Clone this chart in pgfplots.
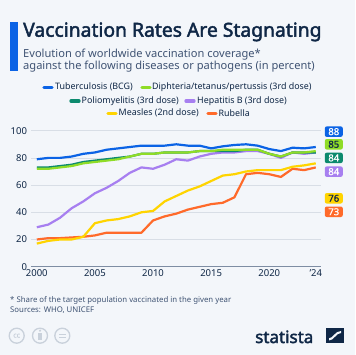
\documentclass[border=0pt]{standalone}
\usepackage{pgfplots}
\pgfplotsset{compat=1.18}
\usepackage{fontspec}
\setmainfont{Noto Sans}
\newfontfamily\heavyfont{Noto Sans}[FakeBold=2.2]
\newfontfamily\semifont{Noto Sans}[FakeBold=1.0]
\definecolor{bg}{HTML}{F3F6FA}
\definecolor{navy}{HTML}{0F2746}
\definecolor{subt}{HTML}{3F5373}
\definecolor{cBCG}{HTML}{0B63E5}
\definecolor{cDTP}{HTML}{8FDC27}
\definecolor{cPol}{HTML}{0C8A6E}
\definecolor{cHep}{HTML}{A77FF0}
\definecolor{cMea}{HTML}{FFD400}
\definecolor{cRub}{HTML}{FF6A2A}
\definecolor{gridc}{HTML}{D8DEE6}
\definecolor{axisc}{HTML}{7E8DA3}
\definecolor{ccg}{HTML}{C9D1DB}

\pgfplotstableread{
year BCG DTP Pol Hep Mea Rub
2000 79 72 73 29 17 20
2001 80 72 73 31 19 21
2002 80 73 74 36 20 21
2003 81 74 75 43 20 21.5
2004 83 76 77 48 22 22
2005 84 77 78 54 32 23
2006 86 78 79 58 34 25
2007 87 79 80 63 35 25
2008 88 81 81 69 37 25
2009 89 83 83 73 40 25
2010 89 83 83 72 41 34
2011 89 84 84 75 48 37
2012 90 84 84 79 52 39
2013 89 84 84 78 56 42
2014 89 85 85 81 59 44
2015 87 85 85 83 63 46
2016 88.5 86 85 84 67 47
2017 89.5 86 85 84 68 51
2018 90 86 86 85 70 68
2019 89 86 86 85 71 69
2020 86.5 83 83 83 71 68
2021 85 81 81 80 71 66
2022 87.5 84 84 84 73.5 72
2023 87 84 84 83 74.5 71
2024 88 85 84 84 76 73
}\datatable

\begin{document}
\begin{tikzpicture}[x=1pt,y=1pt]
\fill[bg] (0,0) rectangle (355,355);
% title block
\fill[cBCG] (10,284) rectangle (17.5,333.3);
\node[anchor=base west,inner sep=0,font=\fontsize{19.3}{22}\heavyfont,text=navy] at (23,318.3) {Vaccination Rates Are Stagnating};
\node[anchor=base west,inner sep=0,font=\fontsize{11.1}{12}\selectfont,text=subt] at (23,297.7) {Evolution of worldwide vaccination coverage*};
\node[anchor=base west,inner sep=0,font=\fontsize{11.1}{12}\selectfont,text=subt] at (23,285) {against the following diseases or pathogens (in percent)};
% legend
\begin{scope}[font=\fontsize{8.9}{11}\selectfont,text=navy]
\draw[cBCG,line width=3.3pt,line cap=round] (44,267.7) -- (52,267.7);
\node[anchor=west,inner sep=0] at (55,267.7) {Tuberculosis (BCG)};
\draw[cDTP,line width=3.3pt,line cap=round] (142,267.7) -- (150,267.7);
\node[anchor=west,inner sep=0] at (152,267.7) {Diphteria/tetanus/pertussis (3rd dose)};
\draw[cPol,line width=3.3pt,line cap=round] (71,254) -- (79,254);
\node[anchor=west,inner sep=0] at (81.5,254) {Poliomyelitis (3rd dose)};
\draw[cHep,line width=3.3pt,line cap=round] (186,254) -- (194,254);
\node[anchor=west,inner sep=0] at (197,254) {Hepatitis B (3rd dose)};
\draw[cMea,line width=3.3pt,line cap=round] (108,241.7) -- (116,241.7);
\node[anchor=west,inner sep=0] at (118.5,241.7) {Measles (2nd dose)};
\draw[cRub,line width=3.3pt,line cap=round] (208,241.7) -- (216,241.7);
\node[anchor=west,inner sep=0] at (218.5,241.7) {Rubella};
\end{scope}
\begin{axis}[
  at={(31pt,88.3pt)}, anchor=south west,
  scale only axis, width=290pt, height=136pt,
  xmin=1999.5, xmax=2024.45, ymin=0, ymax=100,
  clip=false,
  axis lines*=left,
  y axis line style={draw=none},
  x axis line style={axisc,line width=0.9pt,-},
  major tick length=0pt,
  ytick={0,20,40,60,80,100},
  ymajorgrids, grid style={gridc,line width=0.7pt},
  xtick={2000,2005,2010,2015,2020,2024},
  xticklabels={2000,2005,2010,2015,2020,’24},
  /pgf/number format/assume math mode=true,
  /pgf/number format/1000 sep={},
  ticklabel style={font=\fontsize{9.5}{11}\selectfont,text=navy},
  yticklabel style={xshift=-0.5pt},
  xticklabel style={yshift=1pt},
  every axis plot/.append style={line width=2.2pt,line join=round,no markers},
]
\addplot[cRub] table[x=year,y=Rub] {\datatable};
\addplot[cMea] table[x=year,y=Mea] {\datatable};
\addplot[cHep] table[x=year,y=Hep] {\datatable};
\addplot[cPol] table[x=year,y=Pol] {\datatable};
\addplot[cDTP] table[x=year,y=DTP] {\datatable};
\addplot[cBCG] table[x=year,y=BCG] {\datatable};
\begin{scope}[every node/.style={rounded corners=2pt,minimum width=18pt,minimum height=10.5pt,inner sep=0.5pt,font=\fontsize{9.5}{10}\semifont}]
\node[fill=cBCG,text=white] at (axis cs:2025.55,99.3) {88};
\node[fill=cDTP,text=navy] at (axis cs:2025.55,90) {85};
\node[fill=cPol,text=white] at (axis cs:2025.55,80) {84};
\node[fill=cHep,text=white] at (axis cs:2025.55,69.9) {84};
\node[fill=cMea,text=navy] at (axis cs:2025.55,50.3) {76};
\node[fill=cRub,text=white] at (axis cs:2025.55,40.4) {73};
\end{scope}
\end{axis}
% footer
\node[anchor=base west,inner sep=0,font=\fontsize{7.8}{9}\selectfont,text=subt] at (10,52.5) {* Share of the target population vaccinated in the given year};
\node[anchor=base west,inner sep=0,font=\fontsize{7.8}{9}\selectfont,text=subt] at (10,42) {Sources: WHO, UNICEF};
% cc icons
\begin{scope}[ccg,line width=1.3pt]
\draw (16.7,19.3) circle (7.5);
\node[inner sep=0,font=\fontsize{7}{8}\semifont,text=ccg] at (16.7,19.3) {cc};
\draw (40,19.3) circle (7.5);
\fill (40,24.3) circle (1.2);
\fill (38.3,14.5) rectangle (41.7,22.3);
\draw (62.3,19.3) circle (7.5);
\draw (59,20.8) -- (65.6,20.8);
\draw (59,17.8) -- (65.6,17.8);
\end{scope}
% statista logo
\node[anchor=base west,inner sep=0,font=\fontsize{17}{18}\heavyfont,text=navy] at (255,12) {statista};
\fill[navy] (326,11.7) rectangle (344,27);
\fill[bg] (329,14.5) .. controls (334,14.5) and (336,22) .. (341,22) -- (341,24) .. controls (335,24) and (333,16.7) .. (329,16.7) -- cycle;
\end{tikzpicture}
\end{document}
